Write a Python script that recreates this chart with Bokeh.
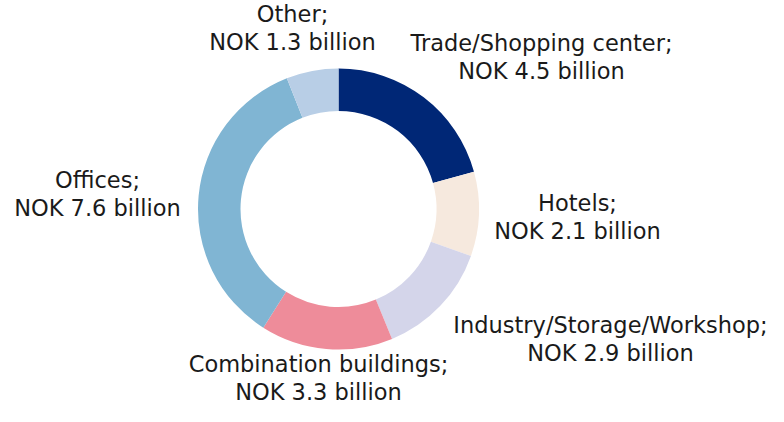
import math
from bokeh.plotting import figure
from bokeh.models import ColumnDataSource, Range1d
from bokeh.core.properties import value
from bokeh.embed import file_html
from bokeh.resources import INLINE

categories = ["Trade/Shopping center", "Hotels", "Industry/Storage/Workshop",
              "Combination buildings", "Offices", "Other"]
values = [4.5, 2.1, 2.9, 3.3, 7.6, 1.3]
colors = ["#002776", "#f6e9de", "#d4d5ea", "#ee8c9a", "#80b5d3", "#b8cee6"]

# label anchor positions (px from top-left: x centre, first line position)
label_x = [541, 577, 610, 318, 97, 292]
label_y = [42, 202, 324, 363, 179, 13]

W, H = 768, 406
total = sum(values)
starts, ends = [], []
acc = 0.0
for v in values:
    starts.append(math.pi / 2 - acc / total * 2 * math.pi)
    acc += v
    ends.append(math.pi / 2 - acc / total * 2 * math.pi)

cx, cy = 338, H - 208.5

p = figure(width=W, height=H, output_backend="svg", toolbar_location=None,
           x_range=Range1d(0, W), y_range=Range1d(0, H),
           min_border=0)
p.axis.visible = False
p.grid.visible = False
p.outline_line_color = None

src = ColumnDataSource(dict(start=starts, end=ends, color=colors))
p.annular_wedge(x=cx, y=cy, inner_radius=98, outer_radius=140.5,
                start_angle="start", end_angle="end", direction="clock",
                fill_color="color", line_color=None, source=src)

line1 = [c + ";" for c in categories]
line2 = ["NOK %.1f billion" % v for v in values]
lsrc = ColumnDataSource(dict(x=label_x, y1=[H - y for y in label_y],
                             y2=[H - y - 28 for y in label_y],
                             t1=line1, t2=line2))
for ycol, tcol in (("y1", "t1"), ("y2", "t2")):
    p.text(x="x", y=ycol, text=tcol, source=lsrc, text_align="center",
           text_baseline="alphabetic", text_font=value("DejaVu Sans"),
           text_font_size="22.5px", text_color="#1a1a1a")

open("out.html", "w").write(file_html(p, INLINE))
